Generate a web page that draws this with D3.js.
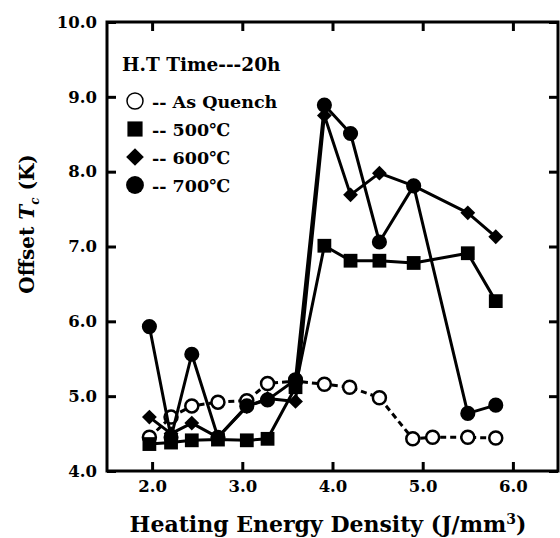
<!DOCTYPE html>
<html><head><meta charset="utf-8">
<script src="https://cdn.jsdelivr.net/npm/d3@7"></script>
<style>body{margin:0;background:#fff}svg{display:block}</style>
</head><body>
<svg id="c" width="560" height="538"></svg>
<script>
const xQuench = [1.97, 2.21, 2.44, 2.73, 3.05, 3.28, 3.59, 3.91, 4.19, 4.52, 4.89, 5.11, 5.50, 5.81];
const yQuench = [4.45, 4.72, 4.87, 4.92, 4.94, 5.17, 5.20, 5.16, 5.12, 4.98, 4.43, 4.45, 4.45, 4.44];
const xHeat = [1.97, 2.21, 2.44, 2.73, 3.05, 3.28, 3.59, 3.91, 4.20, 4.52, 4.90, 5.50, 5.81];
const y500 = [4.36, 4.38, 4.41, 4.42, 4.41, 4.43, 5.12, 7.01, 6.81, 6.81, 6.78, 6.91, 6.27];
const y600 = [4.72, 4.50, 4.64, 4.45, 4.86, 4.97, 4.93, 8.75, 7.69, 7.98, 7.81, 7.45, 7.13];
const y700 = [5.93, 4.45, 5.56, 4.45, 4.87, 4.95, 5.22, 8.89, 8.51, 7.06, 7.81, 4.77, 4.88];
const xTicks = [2.0, 3.0, 4.0, 5.0, 6.0];
const yTicks = [4.0, 5.0, 6.0, 7.0, 8.0, 9.0, 10.0];
const legendTitle = "H.T Time---20h";
const legendLabels = ["-- As Quench", "-- 500\u2103", "-- 600\u2103", "-- 700\u2103"];

const svg = d3.select("#c");
const L = 107, R = 558, T = 22, B = 471;
const x = d3.scaleLinear().domain([1.5, 6.5]).range([L, R]);
const y = d3.scaleLinear().domain([4, 10]).range([B, T]);
const font = "'DejaVu Serif', serif";

const g = svg.append("g");
const tk = 9;
g.append("g").attr("transform", `translate(0,${B})`)
  .call(d3.axisBottom(x).tickValues(xTicks).tickSize(-tk).tickPadding(9).tickFormat(d3.format(".1f")));
g.append("g").attr("transform", `translate(0,${T})`)
  .call(d3.axisTop(x).tickValues(xTicks).tickSize(-tk).tickFormat(""));
g.append("g").attr("transform", `translate(${L},0)`)
  .call(d3.axisLeft(y).tickValues(yTicks).tickSize(-tk).tickPadding(10).tickFormat(d3.format(".1f")));
g.append("g").attr("transform", `translate(${R},0)`)
  .call(d3.axisRight(y).tickValues(yTicks).tickSize(-tk).tickFormat(""));
g.selectAll(".domain").remove();
g.selectAll(".tick line").attr("stroke", "#000").attr("stroke-width", 3);
g.selectAll(".tick text").attr("font-family", font).attr("font-weight", "bold")
  .attr("font-size", 16.5).attr("fill", "#000");
g.append("rect").attr("x", L).attr("y", T).attr("width", R - L).attr("height", B - T)
  .attr("fill", "none").attr("stroke", "#000").attr("stroke-width", 3);

const line = d3.line().x(d => x(d[0])).y(d => y(d[1]));
const zip = (xs, ys) => xs.map((v, i) => [v, ys[i]]);

const dq = zip(xQuench, yQuench);
svg.append("path").datum(dq).attr("d", line).attr("fill", "none")
  .attr("stroke", "#000").attr("stroke-width", 3).attr("stroke-dasharray", "6,4");
svg.selectAll(".q").data(dq).join("circle").attr("cx", d => x(d[0])).attr("cy", d => y(d[1]))
  .attr("r", 6.5).attr("fill", "#fff").attr("stroke", "#000").attr("stroke-width", 2.5);

const series = [
  {ys: y500, sym: d3.symbolSquare, size: 190},
  {ys: y600, sym: d3.symbolDiamond2, size: 140},
  {ys: y700, sym: d3.symbolCircle, size: 180}
];
series.forEach(s => {
  const d = zip(xHeat, s.ys);
  svg.append("path").datum(d).attr("d", line).attr("fill", "none")
    .attr("stroke", "#000").attr("stroke-width", 3).attr("stroke-linejoin", "round");
  svg.append("g").selectAll("path").data(d).join("path")
    .attr("transform", p => `translate(${x(p[0])},${y(p[1])})`)
    .attr("d", d3.symbol().type(s.sym).size(s.size)).attr("fill", "#000");
});

const lg = svg.append("g").attr("font-family", font).attr("font-weight", "bold").attr("fill", "#000");
lg.append("text").attr("x", 122).attr("y", 71).attr("font-size", 18.5).text(legendTitle);
const ly = [101, 129, 157, 185];
const syms = [null, d3.symbolSquare, d3.symbolDiamond2, d3.symbolCircle];
const sizes = [0, 230, 200, 250];
legendLabels.forEach((t, i) => {
  if (i === 0) {
    lg.append("circle").attr("cx", 135).attr("cy", ly[i]).attr("r", 8)
      .attr("fill", "#fff").attr("stroke", "#000").attr("stroke-width", 1.5);
  } else {
    lg.append("path").attr("transform", `translate(135,${ly[i]})`)
      .attr("d", d3.symbol().type(syms[i]).size(sizes[i])).attr("fill", "#000");
  }
  lg.append("text").attr("x", 152).attr("y", ly[i] + 6.5).attr("font-size", 17.5).text(t);
});

const xt = svg.append("text").attr("x", 328).attr("y", 532).attr("text-anchor", "middle")
  .attr("font-family", font).attr("font-weight", "bold").attr("font-size", 22);
xt.append("tspan").text("Heating Energy Density (J/mm");
xt.append("tspan").attr("dy", -8).attr("font-size", 14).text("3");
xt.append("tspan").attr("dy", 8).text(")");

const yt = svg.append("text").attr("transform", "translate(34,224) rotate(-90)").attr("text-anchor", "middle")
  .attr("font-family", font).attr("font-weight", "bold").attr("font-size", 20);
yt.append("tspan").text("Offset ");
yt.append("tspan").attr("font-style", "italic").text("T");
yt.append("tspan").attr("dy", 5).attr("font-size", 12).attr("font-style", "italic").text("c");
yt.append("tspan").attr("dy", -5).text(" (K)");
</script>
</body></html>
